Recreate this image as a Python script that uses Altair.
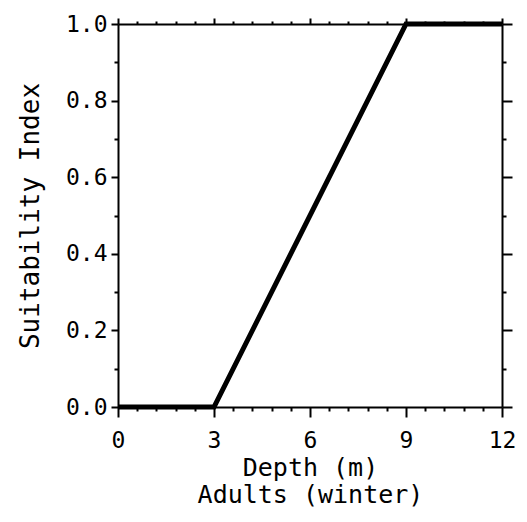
import altair as alt
import pandas as pd

# Data
depth = [0, 3, 9, 12]
suitability = [0.0, 0.0, 1.0, 1.0]

# Tick positions
x_major = [0, 3, 6, 9, 12]
x_minor = [0.6, 1.2, 1.8, 2.4, 3.6, 4.2, 4.8, 5.4, 6.6, 7.2, 7.8, 8.4, 9.6, 10.2, 10.8, 11.4]
y_major = [0.0, 0.2, 0.4, 0.6, 0.8, 1.0]
y_minor = [0.1, 0.3, 0.5, 0.7, 0.9]

df = pd.DataFrame({"depth": depth, "si": suitability})

FONT = "DejaVu Sans Mono"
xs = alt.Scale(domain=[0, 12], nice=False, zero=False)
ys = alt.Scale(domain=[0, 1], nice=False, zero=False)

x_main_axis = alt.Axis(
    orient="bottom", values=x_major, tickSize=10, tickWidth=2, tickColor="black",
    domainWidth=2, domainColor="black", grid=False, format="d", labelFlush=False,
    labelFont=FONT, labelFontSize=23, labelColor="black", labelPadding=12,
    title=["Depth (m)", "Adults (winter)"], titleFont=FONT, titleFontSize=25,
    titleFontWeight="normal", titleColor="black", titlePadding=3, titleLineHeight=27,
)
y_main_axis = alt.Axis(
    orient="left", values=y_major, tickSize=7, tickWidth=2, tickColor="black",
    domainWidth=2, domainColor="black", grid=False, format=".1f", labelFlush=False,
    labelFont=FONT, labelFontSize=23, labelColor="black", labelPadding=4,
    title="Suitability Index", titleFont=FONT, titleFontSize=26,
    titleFontWeight="normal", titleColor="black", titlePadding=22,
)

main = alt.Chart(df).mark_line(color="black", strokeWidth=5, strokeCap="butt").encode(
    x=alt.X("depth:Q", scale=xs, axis=x_main_axis),
    y=alt.Y("si:Q", scale=ys, axis=y_main_axis),
)


def ghost(xaxis, yaxis):
    return alt.Chart(df).mark_line(strokeOpacity=0).encode(
        x=alt.X("depth:Q", scale=xs, axis=xaxis),
        y=alt.Y("si:Q", scale=ys, axis=yaxis),
    )


minor_bl = ghost(
    alt.Axis(orient="bottom", values=x_minor, tickSize=4, tickWidth=2, tickColor="black",
             domain=False, labels=False, grid=False, title=None),
    alt.Axis(orient="left", values=y_minor, tickSize=4, tickWidth=2, tickColor="black",
             domain=False, labels=False, grid=False, title=None),
)
major_tr = ghost(
    alt.Axis(orient="top", values=x_major, tickSize=6, tickWidth=2, tickColor="black",
             domainWidth=2, domainColor="black", labels=False, grid=False, title=None),
    alt.Axis(orient="right", values=y_major, tickSize=10, tickWidth=2, tickColor="black",
             domainWidth=2, domainColor="black", labels=False, grid=False, title=None),
)
minor_tr = ghost(
    alt.Axis(orient="top", values=x_minor, tickSize=3, tickWidth=2, tickColor="black",
             domain=False, labels=False, grid=False, title=None),
    alt.Axis(orient="right", values=y_minor, tickSize=4, tickWidth=2, tickColor="black",
             domain=False, labels=False, grid=False, title=None),
)

chart = (
    alt.layer(main, minor_bl, major_tr, minor_tr)
    .resolve_scale(x="independent", y="independent")
    .properties(
        width=384, height=383,
        autosize=alt.AutoSizeParams(type="none"),
        padding={"left": 110, "top": 16, "right": 16, "bottom": 106},
        background="white",
    )
    .configure_view(stroke=None)
)

chart.save("out.html", embed_options={"renderer": "svg", "actions": False})
